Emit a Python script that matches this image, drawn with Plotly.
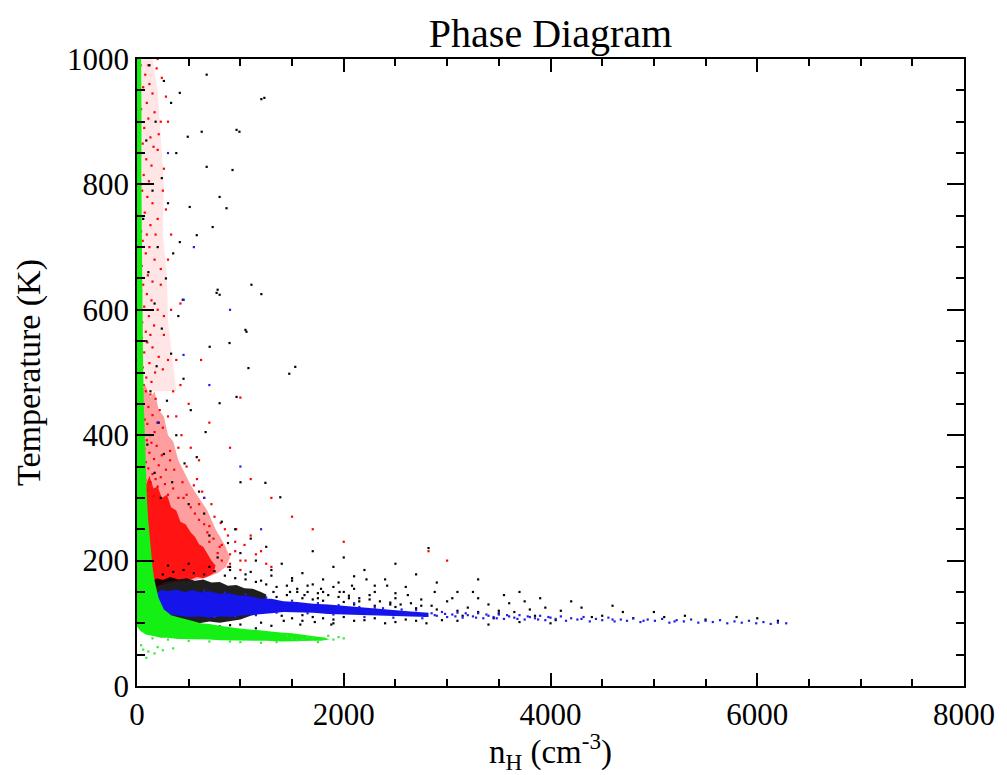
import plotly.graph_objects as go

# ---------------- data (n_H in cm^-3, T in K) ----------------
# Outlines of the dense clouds of points
green_cloud = [(0,1000),(40,1000),(44,900),(42,820),(48,700),(52,600),(58,520),(66,450),(75,400),(85,340),
               (96,300),(108,265),(120,240),(135,212),(150,190),(165,172),(178,160),(195,150),(210,140),
               (235,130),(260,122),(300,117),(330,113),(390,110),(450,107),(530,104),(616,100),(700,99),
               (800,96),(870,95),(934,93),(1040,91),(1150,89),(1280,87),(1415,85),(1500,84),(1600,82),
               (1680,81),(1750,79),(1820,77),(1860,74),(1780,72),(1700,72),(1550,71),(1400,71),(1250,72),
               (1100,72),(934,73),(800,73),(700,74),(600,74),(500,75),(400,75),(289,77),(230,77),(180,79),
               (140,80),(110,81),(85,82),(67,84),(45,86),(30,88),(12,92),(0,95)]
red_halo = [(35,1000),(150,1000),(200,950),(230,870),(260,800),(250,720),(290,650),(300,580),
            (340,520),(380,470),(300,470),(45,470)]
red_mid = [(40,470),(80,480),(130,460),(170,470),(210,440),(260,430),(300,400),(350,390),(400,360),
           (460,340),(520,320),(600,300),(680,280),(760,250),(850,225),(900,205),(860,190),(780,180),
           (650,172),(500,168),(350,166),(220,160),(140,158),(90,175),(60,230),(45,330)]
red_core = [(50,330),(90,322),(120,335),(160,315),(200,318),(240,300),(290,305),(330,285),(380,280),
            (420,262),(470,258),(520,245),(560,238),(600,226),(640,222),(680,210),(720,200),(760,192),
            (740,180),(700,176),(640,172),(580,174),(520,170),(450,171),(380,168),(300,167),(240,163),
            (190,158),(150,156),(120,165),(95,180),(75,210),(62,250),(55,290)]
black_cloud = [(140,165),(190,172),(250,169),(320,174),(400,170),(480,172),(560,168),(640,170),(720,165),
               (800,166),(880,160),(960,161),(1040,156),(1120,155),(1200,150),(1250,146),(1250,118),
               (1100,112),(1000,106),(900,104),(800,101),(700,103),(600,100),(500,104),(400,103),
               (320,108),(250,112),(190,122),(150,140)]
blue_cloud = [(185,148),(240,153),(300,151),(380,154),(460,150),(540,153),(620,149),(700,151),(800,147),
              (900,148),(991,144),(1100,143),(1200,139),(1300,139),(1415,135),(1550,134),(1704,131),
              (1850,130),(2050,127),(2250,124),(2450,121),(2650,119),(2820,117),(2820,110),(2650,111),
              (2450,112),(2250,112),(2050,114),(1850,115),(1704,117),(1550,117),(1415,118),(1300,116),
              (1200,115),(1100,113),(991,112),(900,110),(800,111),(700,109),(600,111),(500,110),
              (400,112),(320,114),(250,118),(200,125),(175,138)]

# Individual scattered points
red_points = [(35,990),(80,975),(120,960),(60,955),(190,985),(150,945),(240,970),(95,930),
              (40,920),(110,905),(70,890),(170,915),(210,880),(130,875),(55,865),(300,900),
              (45,850),(90,840),(140,830),(200,855),(65,815),(115,805),(260,825),(35,800),
              (50,790),(100,780),(150,770),(75,755),(200,745),(130,735),(40,725),(280,760),(95,720),
              (55,710),(120,700),(85,690),(170,680),(45,670),(230,665),(105,655),(150,645),(60,640),
              (40,630),(95,625),(140,615),(70,605),(200,600),(115,590),(50,580),(165,575),(260,590),(85,565),(130,560),
              (45,555),(100,548),(150,540),(70,532),(210,525),(120,515),(55,508),(175,500),(90,492),(250,505),(140,485),(65,480),
              (40,475),(85,470),(130,465),(180,458),(60,450),(110,445),(220,440),(150,432),(75,425),(100,418),
              (250,412),(45,410),(170,405),(130,400),(300,430),(200,420),
              (50,398),(95,392),(140,388),(190,383),(70,378),(120,372),(240,368),(165,362),(85,357),(210,352),
              (110,347),(60,342),(280,345),(150,338),(320,360),(230,333),(180,330),
              (80,328),(130,325),(270,322),(200,318),(350,315),(100,312),(300,305),(160,303),(400,300),
              (600,290),(750,270),(850,250),(950,230),(700,255),(800,222),(900,210),(1050,200),(1100,240),
              (1200,215),(650,300),(550,320),(480,350),(400,380),(1300,190),(1000,185),(880,190),
              (500,450),(700,420),(620,520),(900,380),(1000,460),(1100,330),(1300,300),(1500,270),
              (1700,250),(2000,230),(2820,215),(3000,200),(380,520),(420,610),(330,720),(280,940),
              (700,230),(780,212),(820,200),(650,258),(560,275),(480,305),(440,325),(360,345),(320,375),
              (450,300),(520,285),(600,265),(680,245),(740,235),(820,225),(900,195),(950,215),(1000,200),
              (580,330),(630,310),(720,290),(810,260),(880,240),(960,250),(1040,225),(1150,210),(1250,195),
              (380,430),(430,400),(520,380),(600,360),(350,470),(420,480),(300,520),(260,560),(330,600),
              (230,640),(300,680),(180,720),(250,790),(160,860),(230,900),(110,990),(200,1000)]
black_points = [(674,975),(414,946),(1232,938),(991,884),(491,876),(674,828),(924,823),(799,780),(510,764),
                (866,762),(732,732),(578,719),(414,708),(780,632),(799,624),(443,616),(1059,565),(703,541),
                (770,627),(1049,568),(1078,507),(799,451),(664,405),(578,365),(963,461),(1242,324),(1001,325),
                (1386,301),(963,887),(1203,936),(626,884),(1107,640),(1203,625),(1473,498),(1531,509),(895,547),
                (120,990),(260,965),(330,930),(180,900),(90,870),(380,850),(240,810),(150,790),(300,770),
                (60,745),(200,700),(350,690),(110,660),(280,650),(170,610),(400,590),(240,570),(90,550),
                (330,530),(190,510),(450,490),(130,470),(290,455),(520,440),(210,420),(380,400),(100,385),
                (260,370),(460,355),(170,340),(340,325),(600,310),(230,300),
                (500,290),(650,275),(820,262),(950,250),(700,240),(1100,235),(880,228),(1250,222),(1000,212),
                (780,205),(1150,200),(1400,195),(900,190),(1300,185),(1600,180),(1050,178),(1500,172),
                (1800,170),(1200,168),
                (1700,215),(2000,205),(1900,190),(2200,185),(2500,195),(2100,175),(2400,170),(2700,178),
                (1950,165),(2300,160),(2600,158),(2900,165),(3100,150),(2000,150),(2250,145),(2500,140),
                (2750,138),(3000,135),(3300,140),(3600,132),(2150,135),(2450,130),(2850,128),(3200,125),
                (3500,120),(3800,122),(2820,220),(3300,170),(3700,150),(4200,135),(4600,128),(5000,118),
                (1800,150),(1650,160),(1550,150),(1750,140),(2050,140),
                (1000,98),(1300,96),(1600,104),(1900,100),(2200,105),(2500,102),(2800,100),(3100,104),
                (3400,98),(3700,102),(4000,100),(1150,92),(800,95),
                (4400,110),(4800,108),(5300,112),(5800,110),(6200,104),(4100,120),(3900,140),(4500,112),
                (250,178),(350,182),(450,185),(550,180),(650,178),(750,183),(850,176),(950,172),(1050,170),
                (1150,166),(1250,162),(1350,158),(1450,160),(1550,155),(1650,150),(1750,148),(1850,145),
                (1950,142),(2050,144),(2150,140),(2250,138),(2350,135),(2450,133),(2550,130),(2650,132),
                (2750,128),(300,192),(500,195),(700,190),(900,185),(1100,182),(1300,176),(1500,168),
                (1700,162),(1900,158),(2100,155),(2300,150),(2500,148),
                (1300,125),(1400,112),(1500,108),(1600,113),(1700,110),(1800,108),(1900,106),(2000,110),
                (2100,104),(2300,108),(2400,100),(2600,106),(2700,104),(400,98),(600,96),(900,97),(1200,101),
                (1350,142),(1450,145),(1600,140),(1700,138),(1800,136),(2000,134),(2100,130),(2300,128),
                (2500,126),(2700,124),(2900,122),(3100,120),(3300,118),(3500,116),
                (1320,150),(1380,130),(1420,104),(1480,150),(1520,128),(1580,98),(1620,145),(1680,122),
                (1720,102),(1780,155),(1840,125),(1880,98),(1960,150),(2020,120),(2080,160),(2180,118),
                (2220,170),(2350,115),(2420,160),(2550,118),(2620,145),(2780,112),(2880,150),(2950,105),
                (3050,140),(3150,112),(3250,150),(3400,130),(3450,108),(3550,145),(3650,118),(3750,135),
                (3850,112),(3950,125),(4050,105),(4300,125),(4700,118),(5100,110),(5500,106),(6000,108)]
blue_points = [(2850,116),(2900,112),(2950,118),(3000,110),(3050,114),(3100,117),(3150,109),(3200,113),
               (3250,111),(3300,116),(3350,108),(3400,112),(3450,110),(3500,114),(3550,107),(3600,111),
               (3650,109),(3700,113),(3750,106),(3800,110),(3850,108),(3900,112),(3950,105),(4000,109),
               (4050,107),(4100,111),(4150,104),(4200,108),(4260,106),(4320,110),(4380,103),(4440,107),
               (4500,105),(4560,109),(4620,103),(4680,106),(4740,104),(4800,108),(4870,102),(4940,106),
               (5010,104),(5080,107),(5150,101),(5220,105),(5290,103),(5360,106),(5430,101),(5500,104),
               (5570,102),(5640,105),(5710,100),(5780,103),(5850,101),(5920,104),(5990,100),(6060,102),
               (6130,99),(6200,101),(6280,100),
               (2880,113),(2980,115),(3080,111),(3180,116),(3280,109),(3380,114),(3480,108),(3580,113),
               (3680,107),(3780,111),(3880,106),(3980,110),(4300,107),(4600,106),(4900,104),(5200,103),
               (452,616),(450,528),(700,480),(550,700),(300,850),(900,600),(200,420),(1000,350),
               (650,300),(1200,250),(2300,125),(2600,118),(2100,132),
               (2700,121),(2760,108),(2560,122),(2480,109),(2380,124),(2200,110),(2150,126),(1950,129),
               (1900,114),(1750,132),(1650,116),(1500,136),(1350,117),(1250,141),(1150,113),(1050,146),
               (950,110),(850,149),(750,110),(650,152)]
green_points = [(1800,76),(1900,74),(1650,78),(1950,78),(1550,73),(1850,80),(2000,76),(1750,70),
                (60,58),(110,55),(170,52),(250,57),(350,60),(90,45),(40,65),(200,62),
                (1500,76),(1600,74),(1700,77),(1450,80),(1350,70),(1200,69),(1000,70),(900,71),
                (700,71),(500,72),(300,74),(150,76)]

# ---------------- figure ----------------
fig = go.Figure()

def cloud(pts, color):
    fig.add_trace(go.Scatter(x=[p[0] for p in pts] + [pts[0][0]], y=[p[1] for p in pts] + [pts[0][1]],
                             mode="lines", fill="toself", fillcolor=color,
                             line=dict(width=0), hoverinfo="skip", showlegend=False))

def dots(pts, color, size=2.2):
    fig.add_trace(go.Scatter(x=[p[0] for p in pts], y=[p[1] for p in pts], mode="markers",
                             marker=dict(color=color, size=size, symbol="square", line=dict(width=0)),
                             showlegend=False))

cloud(red_halo, "rgba(255,0,0,0.10)")
cloud(red_mid, "rgba(255,0,0,0.38)")
cloud(red_core, "rgba(255,0,0,0.88)")
dots(red_points, "rgb(255,0,0)")
cloud(black_cloud, "rgba(0,0,0,0.88)")
dots(black_points, "rgb(0,0,0)")
cloud(blue_cloud, "rgb(20,20,235)")
dots(blue_points, "rgb(30,30,230)")
cloud(green_cloud, "rgb(20,240,20)")
dots(green_points, "rgb(60,230,60)")

font_family = "Liberation Serif, Times New Roman, serif"
axis_common = dict(showline=True, linecolor="black", linewidth=1.5, mirror="ticks",
                   ticks="inside", tickcolor="black", tickwidth=1.5, showgrid=False, zeroline=False,
                   tickfont=dict(family=font_family, size=31, color="black"))

fig.update_layout(
    width=1007, height=775,
    margin=dict(l=137, r=39, t=59, b=89),
    paper_bgcolor="white", plot_bgcolor="white",
    font=dict(family=font_family, color="black"),
    title=dict(text="Phase Diagram", x=0.5, xref="paper", xanchor="center",
               y=1 - 33 / 775, yref="container", yanchor="middle",
               font=dict(family=font_family, size=40, color="black")),
    xaxis=dict(range=[0, 8000], tickvals=[0, 2000, 4000, 6000, 8000], ticklen=13,
               minor=dict(dtick=500, ticks="inside", ticklen=7, tickcolor="black", tickwidth=1.5, showgrid=False),
               title=dict(text="n<sub>H</sub> (cm<sup>-3</sup>)", standoff=4,
                          font=dict(family=font_family, size=33, color="black")),
               **axis_common),
    yaxis=dict(range=[0, 1000], tickvals=[0, 200, 400, 600, 800, 1000], ticklen=17,
               minor=dict(dtick=50, ticks="inside", ticklen=8, tickcolor="black", tickwidth=1.5, showgrid=False),
               title=dict(text="Temperature (K)", standoff=16,
                          font=dict(family=font_family, size=34, color="black")),
               **axis_common),
)

fig.write_html("out.html")
